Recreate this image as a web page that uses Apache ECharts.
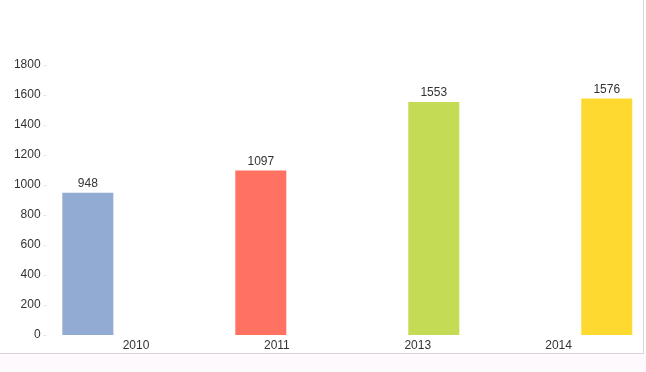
<!DOCTYPE html>
<html>
<head>
<meta charset="utf-8">
<script src="https://cdn.jsdelivr.net/npm/echarts@6/dist/echarts.min.js"></script>
<style>html,body{margin:0;padding:0;background:#fff}#c{width:646px;height:372px}</style>
</head>
<body>
<div id="c"></div>
<script>
var categories = ['2010', '2011', '2013', '2014'];
var values = [948, 1097, 1553, 1576];
var colors = ['#92abd3', '#ff7262', '#c3db55', '#fed92f'];
var yTicks = [0, 200, 400, 600, 800, 1000, 1200, 1400, 1600, 1800];

var chart = echarts.init(document.getElementById('c'));
var series = categories.map(function (c, i) {
  var d = categories.map(function (_, j) { return j === i ? values[i] : null; });
  return {
    type: 'bar', name: c, data: d, barWidth: 51, barGap: '-37%', clip: false,
    itemStyle: { color: colors[i] },
    label: { show: true, position: 'top', distance: 3, color: '#333', fontFamily: 'Liberation Sans', fontSize: 12 }
  };
});
chart.setOption({
  animation: false,
  backgroundColor: '#fff',
  grid: { left: 65.6, right: 17, top: 65, bottom: 37 },
  xAxis: {
    type: 'category', data: categories,
    axisLine: { show: false }, axisTick: { show: false },
    axisLabel: { margin: 5, color: '#333', fontFamily: 'Liberation Sans', fontSize: 12 }
  },
  yAxis: {
    type: 'value', min: yTicks[0], max: yTicks[yTicks.length - 1], interval: 200, offset: 19,
    axisLine: { show: false },
    axisTick: { show: true, length: 3, lineStyle: { color: '#e6e6e6' } },
    splitLine: { show: false },
    axisLabel: { margin: 6, color: '#333', fontFamily: 'Liberation Sans', fontSize: 12, formatter: function (v) { return String(v); } }
  },
  graphic: [
    { type: 'rect', shape: { x: 0, y: 353, width: 646, height: 19 }, style: { fill: '#fdf9fd' }, silent: true },
    { type: 'line', shape: { x1: 0, y1: 353.5, x2: 644, y2: 353.5 }, style: { stroke: '#d9d4dc', lineWidth: 1 } },
    { type: 'line', shape: { x1: 643.5, y1: 0, x2: 643.5, y2: 353.5 }, style: { stroke: '#d9d4dc', lineWidth: 1 } }
  ],
  series: series
});
</script>
</body>
</html>
